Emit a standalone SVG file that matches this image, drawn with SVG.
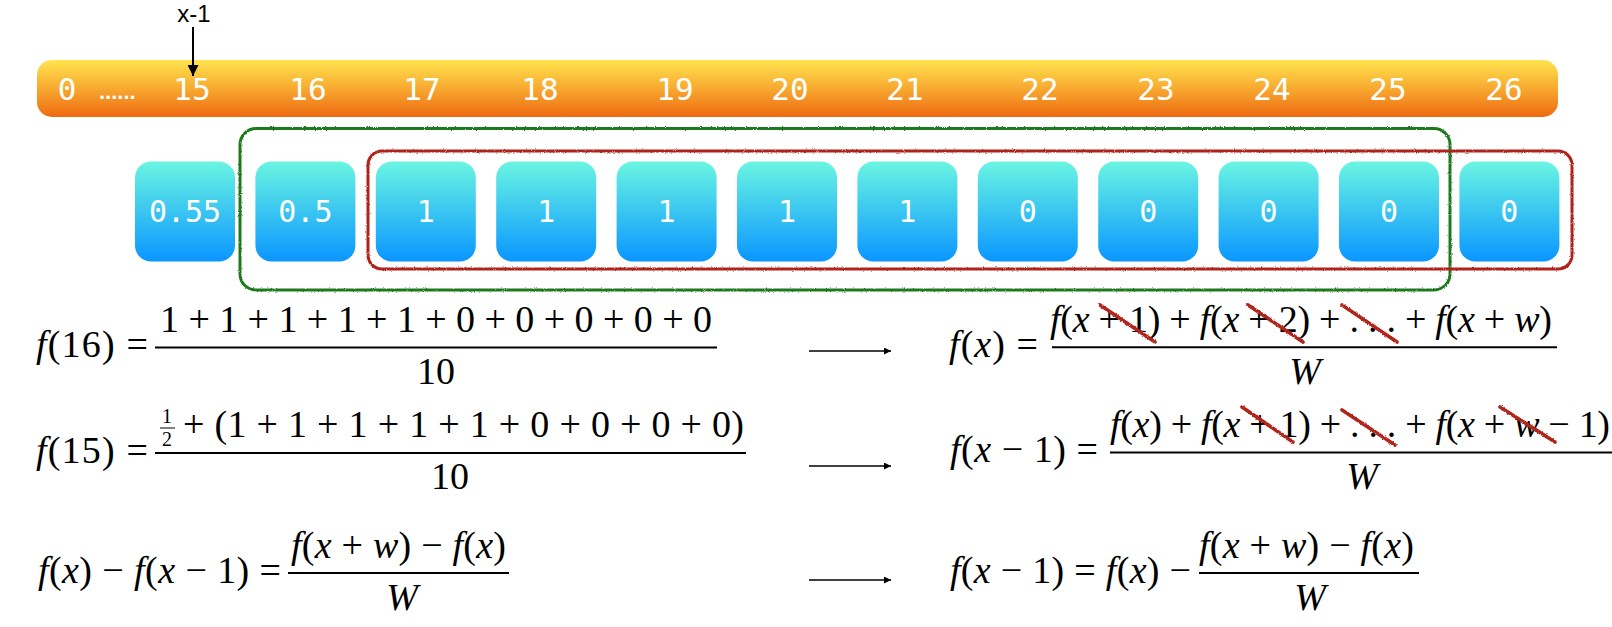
<svg xmlns="http://www.w3.org/2000/svg" width="1612" height="627" viewBox="0 0 1612 627">
<defs>
  <linearGradient id="gBar" x1="0" y1="0" x2="0" y2="1">
    <stop offset="0" stop-color="#FFE44F"/>
    <stop offset="0.5" stop-color="#F8A930"/>
    <stop offset="1" stop-color="#EE6A10"/>
  </linearGradient>
  <linearGradient id="gBox" x1="0" y1="0" x2="0" y2="1">
    <stop offset="0" stop-color="#6AF5E2"/>
    <stop offset="1" stop-color="#0A96FF"/>
  </linearGradient>
  <filter id="rough" x="-5%" y="-5%" width="110%" height="110%">
    <feTurbulence type="fractalNoise" baseFrequency="0.9" numOctaves="2" seed="3" result="n"/>
    <feDisplacementMap in="SourceGraphic" in2="n" scale="2.5" xChannelSelector="R" yChannelSelector="G"/>
  </filter>
  <marker id="ahBig" viewBox="0 0 10 10" refX="10" refY="5" markerWidth="11" markerHeight="11" markerUnits="userSpaceOnUse" orient="auto">
    <path d="M0,0 L10,5 L0,10 z" fill="#000"/>
  </marker>
  <marker id="ahSmall" viewBox="0 0 10 10" refX="10" refY="5" markerWidth="8" markerHeight="7" markerUnits="userSpaceOnUse" orient="auto">
    <path d="M0,0 L10,5 L0,10 z" fill="#000"/>
  </marker>
</defs>
<style>
  .mono{font-family:"DejaVu Sans Mono","Liberation Mono",monospace;fill:#fff;font-size:30px;text-anchor:middle}
  .bart{font-size:31px}
  .dots{font-family:"Liberation Sans",Arial,sans-serif;font-weight:bold;font-size:22px;fill:#fff}
  .lbl{font-family:"Liberation Sans",Arial,sans-serif;font-size:24px;fill:#000;text-anchor:middle}
  .m{font-family:"Liberation Serif","Times New Roman",serif;font-size:38px;fill:#000}
  .c{text-anchor:middle}
  .i{font-style:italic}
  .sm{font-size:20px}
  .fl{stroke:#000;stroke-width:2}
  .box{fill:url(#gBox)}
  .win{fill:none;stroke-width:3;filter:url(#rough)}
  .strike{stroke:#B0251B;stroke-width:3.6;stroke-linecap:round;filter:url(#rough)}
  .conn{stroke:#000;fill:none}
</style>

<g id="index-bar">
  <rect x="37" y="60" width="1521" height="57" rx="15" fill="url(#gBar)"/>
  <text class="mono bart" x="67" y="100">0</text>
  <text class="dots" x="99" y="99">......</text>
  <text class="mono bart" x="192" y="100">15</text>
  <text class="mono bart" x="308" y="100">16</text>
  <text class="mono bart" x="422" y="100">17</text>
  <text class="mono bart" x="540" y="100">18</text>
  <text class="mono bart" x="675" y="100">19</text>
  <text class="mono bart" x="790" y="100">20</text>
  <text class="mono bart" x="905" y="100">21</text>
  <text class="mono bart" x="1040" y="100">22</text>
  <text class="mono bart" x="1156" y="100">23</text>
  <text class="mono bart" x="1272" y="100">24</text>
  <text class="mono bart" x="1388" y="100">25</text>
  <text class="mono bart" x="1504" y="100">26</text>
</g>

<g id="label-x-1">
  <text class="lbl" x="194" y="22">x-1</text>
</g>

<g id="cell-15"><rect class="box" x="135" y="161.5" width="100" height="100" rx="16"/><text class="mono" x="185" y="222">0.55</text></g>
<g id="cell-16"><rect class="box" x="255.4" y="161.5" width="100" height="100" rx="16"/><text class="mono" x="305.4" y="222">0.5</text></g>
<g id="cell-17"><rect class="box" x="375.8" y="161.5" width="100" height="100" rx="16"/><text class="mono" x="425.8" y="222">1</text></g>
<g id="cell-18"><rect class="box" x="496.2" y="161.5" width="100" height="100" rx="16"/><text class="mono" x="546.2" y="222">1</text></g>
<g id="cell-19"><rect class="box" x="616.6" y="161.5" width="100" height="100" rx="16"/><text class="mono" x="666.6" y="222">1</text></g>
<g id="cell-20"><rect class="box" x="737" y="161.5" width="100" height="100" rx="16"/><text class="mono" x="787" y="222">1</text></g>
<g id="cell-21"><rect class="box" x="857.4" y="161.5" width="100" height="100" rx="16"/><text class="mono" x="907.4" y="222">1</text></g>
<g id="cell-22"><rect class="box" x="977.8" y="161.5" width="100" height="100" rx="16"/><text class="mono" x="1027.8" y="222">0</text></g>
<g id="cell-23"><rect class="box" x="1098.2" y="161.5" width="100" height="100" rx="16"/><text class="mono" x="1148.2" y="222">0</text></g>
<g id="cell-24"><rect class="box" x="1218.6" y="161.5" width="100" height="100" rx="16"/><text class="mono" x="1268.6" y="222">0</text></g>
<g id="cell-25"><rect class="box" x="1339" y="161.5" width="100" height="100" rx="16"/><text class="mono" x="1389" y="222">0</text></g>
<g id="cell-26"><rect class="box" x="1459.4" y="161.5" width="100" height="100" rx="16"/><text class="mono" x="1509.4" y="222">0</text></g>

<g id="window-green">
  <rect class="win" x="240" y="128.5" width="1210" height="161.5" rx="16" stroke="#1F7A1F"/>
</g>
<g id="window-red">
  <rect class="win" x="368" y="151" width="1204" height="118" rx="14" stroke="#B0221A"/>
</g>

<g id="formula-f16">
  <text class="m" x="36" y="357" textLength="112" lengthAdjust="spacing"><tspan class="i">f</tspan>(16) =</text>
  <text class="m" x="160" y="332" textLength="552" lengthAdjust="spacing">1 + 1 + 1 + 1 + 1 + 0 + 0 + 0 + 0 + 0</text>
  <line class="fl" x1="155" y1="347.5" x2="717" y2="347.5"/>
  <text class="m c" x="436" y="384">10</text>
</g>

<g id="formula-f15">
  <text class="m" x="36" y="463" textLength="112" lengthAdjust="spacing"><tspan class="i">f</tspan>(15) =</text>
  <text class="m sm c" x="167" y="423">1</text>
  <line x1="160" y1="428" x2="175" y2="428" stroke="#000" stroke-width="1"/>
  <text class="m sm c" x="167" y="446">2</text>
  <text class="m" x="183" y="437" textLength="561" lengthAdjust="spacing">+ (1 + 1 + 1 + 1 + 1 + 0 + 0 + 0 + 0)</text>
  <line class="fl" x1="155" y1="453" x2="746" y2="453"/>
  <text class="m c" x="450" y="489">10</text>
</g>

<g id="formula-diff">
  <text class="m" x="38" y="583" textLength="243" lengthAdjust="spacing"><tspan class="i">f</tspan>(<tspan class="i">x</tspan>) − <tspan class="i">f</tspan>(<tspan class="i">x</tspan> − 1) =</text>
  <text class="m" x="291" y="558" textLength="215" lengthAdjust="spacing"><tspan class="i">f</tspan>(<tspan class="i">x</tspan> + <tspan class="i">w</tspan>) − <tspan class="i">f</tspan>(<tspan class="i">x</tspan>)</text>
  <line class="fl" x1="288" y1="573" x2="509" y2="573"/>
  <text class="m c i" x="402" y="610">W</text>
</g>

<g id="formula-fx">
  <text class="m" x="949" y="357" textLength="89" lengthAdjust="spacing"><tspan class="i">f</tspan>(<tspan class="i">x</tspan>) =</text>
  <text class="m" x="1050" y="332" textLength="502" lengthAdjust="spacing"><tspan class="i">f</tspan>(<tspan class="i">x</tspan> + 1) + <tspan class="i">f</tspan>(<tspan class="i">x</tspan> + 2) + . . . + <tspan class="i">f</tspan>(<tspan class="i">x</tspan> + <tspan class="i">w</tspan>)</text>
  <line class="fl" x1="1052" y1="347.3" x2="1557" y2="347.3"/>
  <text class="m c i" x="1305" y="384">W</text>
  <line class="strike" x1="1100" y1="305" x2="1155" y2="342"/>
  <line class="strike" x1="1248" y1="305" x2="1303" y2="342"/>
  <line class="strike" x1="1342" y1="305" x2="1397" y2="342"/>
</g>

<g id="formula-fx-1">
  <text class="m" x="950" y="462" textLength="148" lengthAdjust="spacing"><tspan class="i">f</tspan>(<tspan class="i">x</tspan> − 1) =</text>
  <text class="m" x="1110" y="437" textLength="500" lengthAdjust="spacing"><tspan class="i">f</tspan>(<tspan class="i">x</tspan>) + <tspan class="i">f</tspan>(<tspan class="i">x</tspan> + 1) + . . . + <tspan class="i">f</tspan>(<tspan class="i">x</tspan> + <tspan class="i">w</tspan> − 1)</text>
  <line class="fl" x1="1110" y1="452.5" x2="1612" y2="452.5"/>
  <text class="m c i" x="1362" y="489">W</text>
  <line class="strike" x1="1242" y1="407" x2="1293" y2="442"/>
  <line class="strike" x1="1342" y1="410" x2="1395" y2="445"/>
  <line class="strike" x1="1500" y1="407" x2="1555" y2="442"/>
</g>

<g id="formula-result">
  <text class="m" x="950" y="583" textLength="241" lengthAdjust="spacing"><tspan class="i">f</tspan>(<tspan class="i">x</tspan> − 1) = <tspan class="i">f</tspan>(<tspan class="i">x</tspan>) −</text>
  <text class="m" x="1199" y="558" textLength="215" lengthAdjust="spacing"><tspan class="i">f</tspan>(<tspan class="i">x</tspan> + <tspan class="i">w</tspan>) − <tspan class="i">f</tspan>(<tspan class="i">x</tspan>)</text>
  <line class="fl" x1="1199" y1="573" x2="1419" y2="573"/>
  <text class="m c i" x="1310" y="610">W</text>
</g>

<g id="connectors">
  <line class="conn" x1="193" y1="27" x2="193" y2="76" stroke-width="2" marker-end="url(#ahBig)"/>
  <line class="conn" x1="809" y1="351" x2="891" y2="351" stroke-width="1.6" marker-end="url(#ahSmall)"/>
  <line class="conn" x1="809" y1="466" x2="891" y2="466" stroke-width="1.6" marker-end="url(#ahSmall)"/>
  <line class="conn" x1="809" y1="580" x2="891" y2="580" stroke-width="1.6" marker-end="url(#ahSmall)"/>
</g>
</svg>
